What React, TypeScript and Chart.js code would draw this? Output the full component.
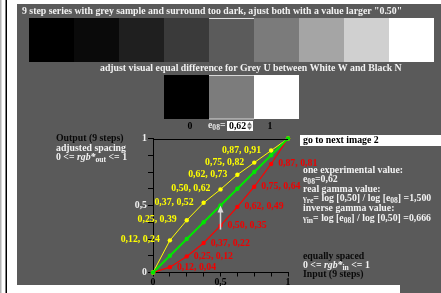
import React, { useEffect, useRef } from "react";
import { Chart, registerables } from "chart.js";

Chart.register(...registerables);

const FONT = "'Liberation Serif', 'Times New Roman', serif";
const PANEL = "#5a5a5a";

// data
const xIn = [0, 0.125, 0.25, 0.375, 0.5, 0.625, 0.75, 0.875, 1];
const yEqual = [0, 0.125, 0.25, 0.375, 0.5, 0.625, 0.75, 0.875, 1];
const yAdjusted = [0, 0.24, 0.39, 0.52, 0.62, 0.73, 0.82, 0.91, 1];
const yGamma = [0, 0.04, 0.12, 0.22, 0.35, 0.49, 0.64, 0.81, 1];
const stepGreys = [0, 10, 31, 58, 91, 123, 165, 208, 255];
const sampleGreys = [0, 124, 255];
const yTickLabels: Record<string, string> = { "0": "0", "0.5": "0,5", "1": "1" };
const xTickLabels: Record<string, string> = { "0": "0", "0.5": "0,5", "1": "1" };

type Run = { t: string; sub?: boolean; it?: boolean; size?: number };

function drawRuns(ctx: CanvasRenderingContext2D, x: number, y: number, list: Run[], color: string, base = 9.8) {
  let cx = x;
  ctx.textBaseline = "middle";
  ctx.textAlign = "left";
  ctx.fillStyle = color;
  for (const r of list) {
    const size = r.size ?? (r.sub ? base * 0.78 : base);
    ctx.font = `${r.it ? "italic " : ""}bold ${size}px ${FONT}`;
    ctx.fillText(r.t, cx, y + (r.sub ? 2.5 : 0));
    cx += ctx.measureText(r.t).width;
  }
}

function fmt(v: number) {
  return (Math.floor(v * 100 + 1e-6) / 100).toFixed(2).replace(".", ",");
}

const bgPlugin = {
  id: "bg",
  beforeDraw(chart: any) {
    const ctx: CanvasRenderingContext2D = chart.ctx;
    ctx.save();
    ctx.fillStyle = "#fff";
    ctx.fillRect(0, 0, chart.width, chart.height);
    ctx.fillStyle = "#b4b4b4";
    ctx.fillRect(0, 0, 1.5, chart.height);
    ctx.fillStyle = "#000";
    ctx.fillRect(5.5, 0, 1.5, chart.height);
    ctx.fillStyle = PANEL;
    ctx.fillRect(17, 4, 424, 281);
    ctx.fillRect(400, 285, 41, 8);

    // title
    drawRuns(ctx, 22, 11.5, [{ t: '9 step series with grey sample and surround too dark, ajust both with a value larger "0.50"' }], "#f2f2f2");

    // steps
    stepGreys.forEach((g, i) => {
      ctx.fillStyle = `rgb(${g},${g},${g})`;
      ctx.fillRect(29 + i * 45, 18, 45, 44);
    });
    ctx.fillStyle = "#e0e0e0";
    ctx.fillRect(209, 18, 45, 1);

    drawRuns(ctx, 100, 68.5, [{ t: "adjust visual equal difference for Grey U between White W and Black N" }], "#f2f2f2");

    // sample patches
    sampleGreys.forEach((g, i) => {
      ctx.fillStyle = `rgb(${g},${g},${g})`;
      ctx.fillRect(164 + i * 45, 75, 45, 44);
    });
    ctx.fillStyle = "#d8d8d8";
    ctx.fillRect(209, 75, 45, 1);
    ctx.fillRect(209, 118.5, 45, 1);

    // patch row labels
    ctx.font = `bold 9.8px ${FONT}`;
    ctx.fillStyle = "#000";
    ctx.textAlign = "center";
    ctx.textBaseline = "middle";
    ctx.fillText("0", 190, 126);
    ctx.fillText("1", 270, 126);
    drawRuns(ctx, 208, 125.5, [{ t: "e" }, { t: "08", sub: true }, { t: "=" }], "#e8e8e8");
    ctx.fillStyle = "#fff";
    ctx.fillRect(227, 121, 26, 10);
    drawRuns(ctx, 229, 126, [{ t: "0,62" }], "#000");
    ctx.fillStyle = "#666";
    ctx.beginPath();
    ctx.moveTo(247, 125.5); ctx.lineTo(249.5, 122); ctx.lineTo(252, 125.5); ctx.closePath(); ctx.fill();
    ctx.beginPath();
    ctx.moveTo(247, 126.5); ctx.lineTo(249.5, 130); ctx.lineTo(252, 126.5); ctx.closePath(); ctx.fill();

    // left texts
    drawRuns(ctx, 56, 138.3, [{ t: "Output (9 steps)" }], "#0a0a0a");
    drawRuns(ctx, 56, 148.3, [{ t: "adjusted spacing" }], "#f2f2f2");
    drawRuns(ctx, 56, 157.3, [{ t: "0 <= " }, { t: "rgb*", it: true }, { t: "out", sub: true }, { t: " <= 1" }], "#f2f2f2");

    // right texts
    ctx.fillStyle = "#fff";
    ctx.fillRect(300, 135, 141, 11);
    drawRuns(ctx, 303, 140.5, [{ t: "go to next image 2" }], "#000");
    const W = "#f2f2f2";
    drawRuns(ctx, 303, 170.5, [{ t: "one experimental value:" }], W);
    drawRuns(ctx, 303, 179.5, [{ t: "e" }, { t: "08", sub: true }, { t: "=0,62" }], W);
    drawRuns(ctx, 303, 189, [{ t: "real gamma value:" }], W);
    drawRuns(ctx, 303, 198.5, [{ t: "γ", size: 8 }, { t: "re", sub: true }, { t: "= log [0,50] / log [e" }, { t: "08", sub: true }, { t: "] =1,500" }], W);
    drawRuns(ctx, 303, 208.5, [{ t: "inverse gamma value:" }], W);
    drawRuns(ctx, 303, 218.5, [{ t: "γ", size: 8 }, { t: "in", sub: true }, { t: "= log [e" }, { t: "08", sub: true }, { t: "] / log [0,50] =0,666" }], W);
    drawRuns(ctx, 303, 256.5, [{ t: "equally spaced" }], "#0a0a0a");
    drawRuns(ctx, 303, 265.5, [{ t: "0 <= " }, { t: "rgb*", it: true }, { t: "in", sub: true }, { t: " <= 1" }], W);
    drawRuns(ctx, 303, 274.5, [{ t: "Input (9 steps)" }], "#0a0a0a");
    ctx.restore();
  },
};

const overlayPlugin = {
  id: "overlay",
  afterDatasetsDraw(chart: any) {
    const ctx: CanvasRenderingContext2D = chart.ctx;
    const ca = chart.chartArea;
    ctx.save();
    // top frame line
    ctx.strokeStyle = "#000";
    ctx.lineWidth = 1;
    ctx.beginPath();
    ctx.moveTo(ca.left, Math.round(ca.top) + 0.5);
    ctx.lineTo(ca.right, Math.round(ca.top) + 0.5);
    ctx.stroke();

    // labels
    ctx.font = `bold 9.8px ${FONT}`;
    ctx.textBaseline = "middle";
    const yMeta = chart.getDatasetMeta(1);
    const rMeta = chart.getDatasetMeta(2);
    for (let i = 1; i < xIn.length - 1; i++) {
      const p = yMeta.data[i];
      ctx.fillStyle = "#ffff00";
      ctx.textAlign = "right";
      ctx.fillText(`${fmt(xIn[i])}, ${fmt(yAdjusted[i])}`, p.x - 10, p.y - 0.5);
      const q = rMeta.data[i];
      ctx.fillStyle = "#f00000";
      ctx.textAlign = "left";
      ctx.fillText(`${fmt(xIn[i])}, ${fmt(yGamma[i])}`, q.x + 7, q.y);
    }

    // arrow from gamma point to equal point
    const gp = rMeta.data[4];
    const ep = chart.getDatasetMeta(0).data[4];
    ctx.strokeStyle = "#d8d8d8";
    ctx.fillStyle = "#d8d8d8";
    ctx.lineWidth = 1.5;
    ctx.beginPath();
    ctx.moveTo(gp.x, gp.y + 4);
    ctx.lineTo(ep.x, ep.y + 6);
    ctx.stroke();
    ctx.beginPath();
    ctx.moveTo(ep.x, ep.y);
    ctx.lineTo(ep.x - 3, ep.y + 7);
    ctx.lineTo(ep.x + 3, ep.y + 7);
    ctx.closePath();
    ctx.fill();
    ctx.restore();
  },
};

export default function App() {
  const ref = useRef<HTMLCanvasElement | null>(null);
  useEffect(() => {
    if (!ref.current) return;
    const mk = (ys: number[]) => xIn.map((x, i) => ({ x, y: ys[i] }));
    const tickFont = { family: FONT, size: 9.8, weight: "bold" as const };
    const chart = new Chart(ref.current, {
      type: "line",
      data: {
        datasets: [
          { label: "equal", data: mk(yEqual), borderColor: "#00e600", backgroundColor: "#00e600", borderWidth: 2, pointRadius: 2.2, pointBorderWidth: 0, clip: false } as any,
          { label: "adjusted", data: mk(yAdjusted), borderColor: "#ffff00", backgroundColor: "#ffff00", borderWidth: 1, pointRadius: 2.2, pointBorderWidth: 0, clip: false } as any,
          { label: "gamma", data: mk(yGamma), borderColor: "#ff0000", backgroundColor: "#ff0000", borderWidth: 1.2, pointRadius: 2.2, pointBorderWidth: 0, clip: false } as any,
        ],
      },
      options: {
        animation: false,
        responsive: false,
        devicePixelRatio: 1,
        events: [],
        layout: { padding: { left: 123, top: 138.5, right: 153, bottom: 0.5 } },
        plugins: { legend: { display: false }, tooltip: { enabled: false } },
        scales: {
          x: {
            type: "linear",
            min: 0,
            max: 1,
            afterFit: (s: any) => { s.height = 20; },
            grid: { drawOnChartArea: false, drawTicks: true, tickLength: 4, color: "#000" },
            border: { color: "#000", width: 1 },
            ticks: {
              stepSize: 0.125,
              autoSkip: false,
              maxRotation: 0,
              padding: 0,
              color: "#000",
              font: tickFont,
              callback: (v: any) => xTickLabels[String(v)] ?? "",
            },
          },
          y: {
            type: "linear",
            min: 0,
            max: 1,
            afterFit: (s: any) => { s.width = 30; },
            grid: { drawOnChartArea: false, drawTicks: true, tickLength: 5, color: "#000" },
            border: { color: "#000", width: 1 },
            ticks: {
              stepSize: 0.125,
              autoSkip: false,
              padding: 1,
              color: "#f0f0f0",
              font: tickFont,
              callback: (v: any) => yTickLabels[String(v)] ?? "",
            },
          },
        },
      },
      plugins: [bgPlugin, overlayPlugin],
    });
    return () => chart.destroy();
  }, []);
  return (
    <div style={{ position: "absolute", left: 0, top: 0, width: 441, height: 293 }}>
      <canvas ref={ref} width={441} height={293} style={{ display: "block" }} />
    </div>
  );
}
